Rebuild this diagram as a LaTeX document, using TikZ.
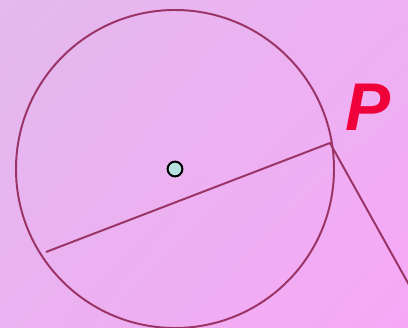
\documentclass[tikz,border=0pt]{standalone}
\usepackage{fontspec}
\setsansfont{Liberation Sans}
\usepackage{tikz}
\usetikzlibrary{calc,shadings}
\definecolor{bgul}{RGB}{227,185,238}
\definecolor{bglr}{RGB}{246,168,246}
\definecolor{bgur}{RGB}{238,176,242}
\definecolor{bgll}{RGB}{234,178,240}
\definecolor{linepurple}{RGB}{155,52,102}
\definecolor{pointred}{RGB}{240,0,58}
\definecolor{dotcyan}{RGB}{184,226,226}

\begin{document}
\begin{tikzpicture}[x=0.025cm,y=-0.025cm,line width=1.4pt]
  \useasboundingbox (0,0) rectangle (408,328);
  \clip (0,0) rectangle (408,328);
  \shade[upper left=bgul,upper right=bgur,lower left=bgll,lower right=bglr] (0,0) rectangle (408,328);
  \coordinate (O) at (175,169);
  \coordinate (P) at (330,143);
  \coordinate (A) at (46,252);
  \coordinate (B) at ($(P)!2.5!(408,283)$);
  \draw[linepurple] (O) circle (159);
  \draw[linepurple] (A) -- (P) -- (B);
  \node[circle,draw=black,fill=dotcyan,line width=1.4pt,minimum size=0.37cm,inner sep=0pt] (center) at (O) {};
  \node[text=pointred,font=\sffamily\bfseries\itshape\fontsize{48}{48}\selectfont] (label) at (368,107) {P};
\end{tikzpicture}
\end{document}
